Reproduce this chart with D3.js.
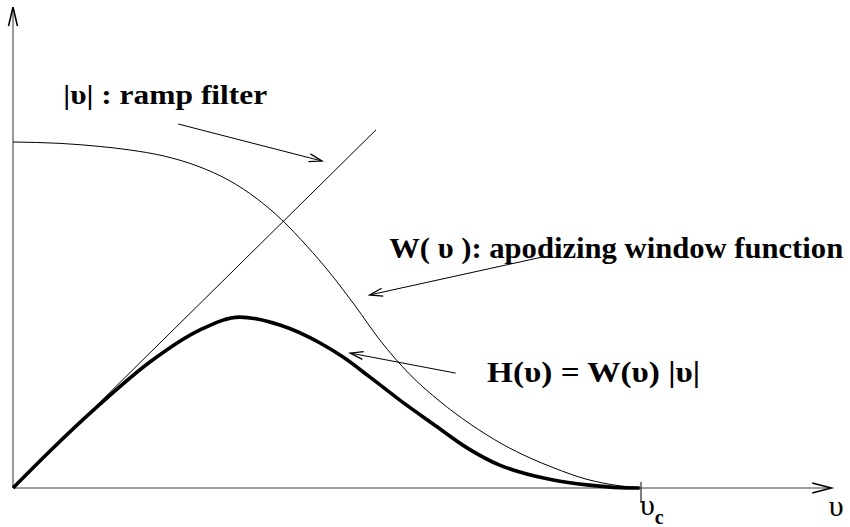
<!DOCTYPE html>
<html>
<head>
<meta charset="utf-8">
<script src="https://cdn.jsdelivr.net/npm/d3@7"></script>
<style>
  html, body { margin: 0; padding: 0; background: #ffffff; }
  svg { display: block; }
  text { font-family: "Liberation Serif", "Times New Roman", serif; fill: #000; }
</style>
</head>
<body>
<svg id="chart" width="850" height="527"></svg>
<script>
// ---- data (v in units of the cut-off frequency, amplitude in units of W(0)) ----
const windowV   = [0, 0.075, 0.139, 0.186, 0.239, 0.293, 0.346, 0.387, 0.428, 0.468, 0.505, 0.545, 0.584, 0.632, 0.680, 0.728, 0.780, 0.823, 0.860, 0.914, 0.967, 0.995];
const windowAmp = [1.000, 0.996, 0.987, 0.977, 0.960, 0.931, 0.887, 0.838, 0.775, 0.699, 0.621, 0.526, 0.428, 0.328, 0.250, 0.185, 0.126, 0.087, 0.059, 0.025, 0.006, 0.000];

const filterV   = [0, 0.059, 0.139, 0.218, 0.298, 0.361, 0.425, 0.489, 0.525, 0.568, 0.616, 0.669, 0.723, 0.775, 0.807, 0.860, 0.914, 0.967, 0.998];
const filterAmp = [0, 0.107, 0.243, 0.364, 0.457, 0.494, 0.471, 0.419, 0.379, 0.321, 0.254, 0.185, 0.116, 0.066, 0.046, 0.023, 0.009, 0.001, 0.000];

const rampV   = [0, 0.578];
const rampAmp = [0, 1.035];

const cutoff = 1.0;
const xMax = 1.303;
const yMax = 1.390;

const labels = {
  ramp: "|υ| : ramp filter",
  window: "W( υ ): apodizing window function",
  filter: "H(υ) = W(υ) |υ|",
  axis: "υ",
  cutoff: "υ",
  cutoffSub: "c"
};

// ---- scales ----
const svg = d3.select("#chart");
const x = d3.scaleLinear().domain([0, 1]).range([13, 641]);
const y = d3.scaleLinear().domain([0, 1]).range([488, 142]);

const line = d3.line().x(d => x(d[0])).y(d => y(d[1])).curve(d3.curveMonotoneX);

// ---- axes ----
const axisColor = "#7f7f7f";
svg.append("line")
  .attr("x1", x(0)).attr("y1", y(0)).attr("x2", x(0)).attr("y2", y(yMax))
  .attr("stroke", axisColor).attr("stroke-width", 1.6);
svg.append("line")
  .attr("x1", x(0)).attr("y1", y(0)).attr("x2", x(xMax)).attr("y2", y(0))
  .attr("stroke", axisColor).attr("stroke-width", 1.6);

function openHead(tx, ty, fx, fy, len, half, w) {
  const a = Math.atan2(ty - fy, tx - fx);
  const bx = tx - len * Math.cos(a), by = ty - len * Math.sin(a);
  const px = -Math.sin(a) * half, py = Math.cos(a) * half;
  svg.append("path")
    .attr("d", `M${bx + px},${by + py}L${tx},${ty}L${bx - px},${by - py}`)
    .attr("fill", "none").attr("stroke", "#000").attr("stroke-width", w)
    .attr("stroke-linejoin", "miter");
}
openHead(x(0), y(yMax), x(0), y(0), 19, 4.5, 1.6);
openHead(x(xMax), y(0), x(0), y(0), 19, 5, 1.6);

// cutoff tick
svg.append("line")
  .attr("x1", x(cutoff)).attr("x2", x(cutoff))
  .attr("y1", y(0) - 6).attr("y2", y(0) + 15)
  .attr("stroke", "#000").attr("stroke-width", 1);

// ---- curves ----
svg.append("path")
  .datum(rampV.map((v, i) => [v, rampAmp[i]]))
  .attr("d", d3.line().x(d => x(d[0])).y(d => y(d[1])))
  .attr("fill", "none").attr("stroke", "#000").attr("stroke-width", 1);

svg.append("path")
  .datum(windowV.map((v, i) => [v, windowAmp[i]]))
  .attr("d", line)
  .attr("fill", "none").attr("stroke", "#000").attr("stroke-width", 1);

svg.append("path")
  .datum(filterV.map((v, i) => [v, filterAmp[i]]))
  .attr("d", line)
  .attr("fill", "none").attr("stroke", "#000").attr("stroke-width", 3.6)
  .attr("stroke-linecap", "butt");

// ---- annotation arrows ----
function arrow(v0, a0, v1, a1) {
  svg.append("line")
    .attr("x1", x(v0)).attr("y1", y(a0)).attr("x2", x(v1)).attr("y2", y(a1))
    .attr("stroke", "#000").attr("stroke-width", 1);
  openHead(x(v1), y(a1), x(v0), y(a0), 13, 4, 1.3);
}
arrow(0.263, 1.052, 0.492, 0.945);
arrow(0.844, 0.668, 0.568, 0.558);
arrow(0.705, 0.332, 0.537, 0.390);

// ---- labels ----
svg.append("text").attr("x", x(0.080)).attr("y", y(1.110))
  .attr("font-size", 28).attr("font-weight", "bold")
  .attr("textLength", 204).attr("lengthAdjust", "spacingAndGlyphs")
  .text(labels.ramp);

svg.append("text").attr("x", x(0.599)).attr("y", y(0.665))
  .attr("font-size", 30).attr("font-weight", "bold")
  .attr("textLength", 454).attr("lengthAdjust", "spacingAndGlyphs")
  .text(labels.window);

svg.append("text").attr("x", x(0.755)).attr("y", y(0.307))
  .attr("font-size", 30).attr("font-weight", "bold")
  .attr("textLength", 213).attr("lengthAdjust", "spacingAndGlyphs")
  .text(labels.filter);

svg.append("text").attr("x", x(1.299)).attr("y", y(0) + 28)
  .attr("font-size", 30).text(labels.axis);

const ct = svg.append("text").attr("x", x(cutoff) - 1).attr("y", y(0) + 27)
  .attr("font-size", 30).text(labels.cutoff);
ct.append("tspan").attr("dy", 9).attr("font-size", 20).attr("font-weight", "bold")
  .text(labels.cutoffSub);
</script>
</body>
</html>
